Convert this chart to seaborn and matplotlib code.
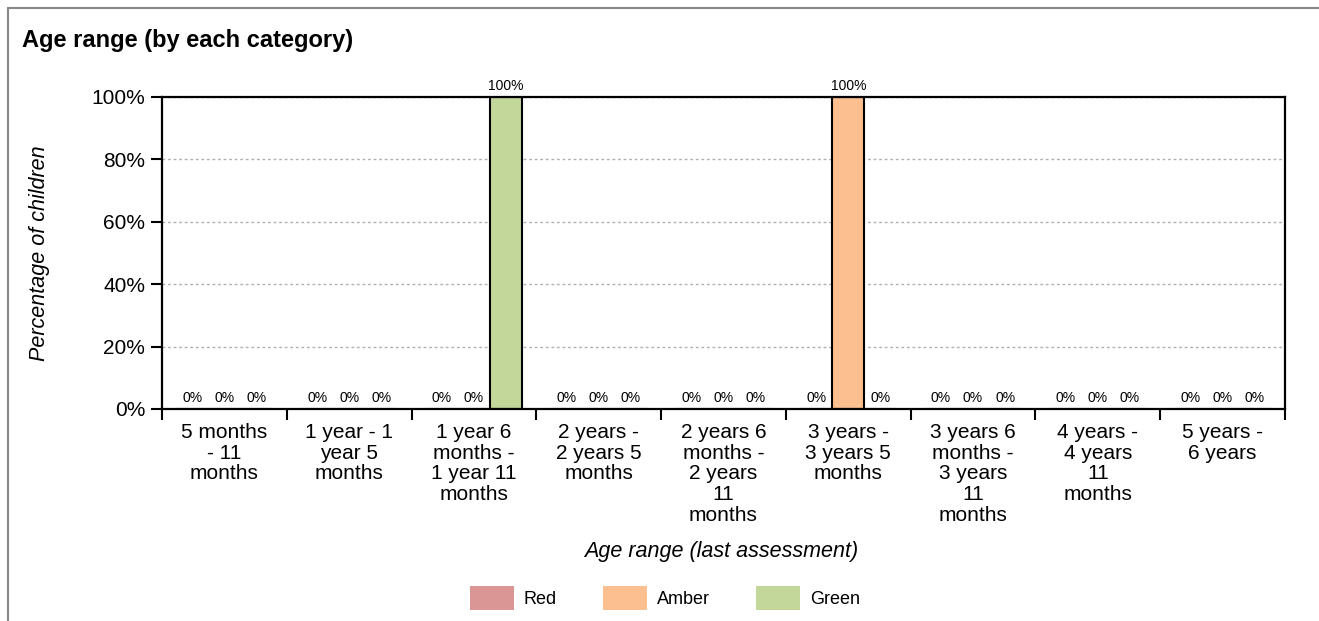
import numpy as np
import pandas as pd
import matplotlib
matplotlib.use("Agg")
import matplotlib.pyplot as plt
from matplotlib.patches import Patch
from matplotlib.lines import Line2D
from matplotlib.ticker import FuncFormatter, FixedLocator
import seaborn as sns

# ---- data ----
age_ranges = [
    "5 months - 11 months",
    "1 year - 1 year 5 months",
    "1 year 6 months - 1 year 11 months",
    "2 years - 2 years 5 months",
    "2 years 6 months - 2 years 11 months",
    "3 years - 3 years 5 months",
    "3 years 6 months - 3 years 11 months",
    "4 years - 4 years 11 months",
    "5 years - 6 years",
]
tick_labels = [
    "5 months\n- 11\nmonths",
    "1 year - 1\nyear 5\nmonths",
    "1 year 6\nmonths -\n1 year 11\nmonths",
    "2 years -\n2 years 5\nmonths",
    "2 years 6\nmonths -\n2 years\n11\nmonths",
    "3 years -\n3 years 5\nmonths",
    "3 years 6\nmonths -\n3 years\n11\nmonths",
    "4 years -\n4 years\n11\nmonths",
    "5 years -\n6 years",
]
series_names = ["Red", "Amber", "Green"]
red_values = [0, 0, 0, 0, 0, 0, 0, 0, 0]
amber_values = [0, 0, 0, 0, 0, 100, 0, 0, 0]
green_values = [0, 0, 100, 0, 0, 0, 0, 0, 0]
series_colors = ["#DA9694", "#FCBF8F", "#C4D79B"]

rows = []
for name, vals in zip(series_names, [red_values, amber_values, green_values]):
    for a, v in zip(age_ranges, vals):
        rows.append({"age": a, "pct": v, "rag": name})
df = pd.DataFrame(rows)

# ---- style ----
sns.set_style("white")
plt.rcParams["font.family"] = ["Liberation Sans", "DejaVu Sans"]
plt.rcParams["text.color"] = "black"
plt.rcParams["axes.labelcolor"] = "black"
plt.rcParams["xtick.color"] = "black"
plt.rcParams["ytick.color"] = "black"

W, H = 1319, 621
fig = plt.figure(figsize=(W / 100, H / 100), dpi=100)
ax = fig.add_axes([162 / W, 1 - 409 / H, (1285 - 162) / W, (409 - 97) / H])

sns.barplot(
    data=df, x="age", y="pct", hue="rag", order=age_ranges,
    hue_order=series_names, palette=series_colors, saturation=1,
    width=0.77, edgecolor="black", linewidth=1.5, ax=ax, legend=False,
    errorbar=None,
)

for cont in ax.containers:
    ax.bar_label(cont, labels=[f"{v:.0f}%" for v in cont.datavalues],
                 padding=3, fontsize=10, color="black")

ax.set_xlim(-0.5, len(age_ranges) - 0.5)
ax.set_ylim(0, 100)
ax.set_yticks([0, 20, 40, 60, 80, 100])
ax.yaxis.set_major_formatter(FuncFormatter(lambda v, p: f"{v:.0f}%"))
ax.tick_params(axis="y", which="major", length=8, width=1.5, direction="out",
               labelsize=15, pad=4, color="black", labelcolor="black", left=True)
ax.yaxis.grid(True, linestyle=(0, (2, 2)), color="#b0b0b0", linewidth=1)
ax.xaxis.grid(False)
ax.set_axisbelow(True)

ax.set_xticks(range(len(age_ranges)))
ax.set_xticklabels(tick_labels, fontsize=15, linespacing=1.12, va="top",
                   color="black")
ax.xaxis.set_minor_locator(FixedLocator(np.arange(-0.5, len(age_ranges), 1.0)))
ax.tick_params(axis="x", which="major", length=0, pad=10, labelsize=15,
               labelcolor="black")
ax.tick_params(axis="x", which="minor", length=8, width=1.5, direction="out",
               color="black", bottom=True)

for s in ax.spines.values():
    s.set_color("black")
    s.set_linewidth(1.6)
    s.set_visible(True)

ax.set_xlabel("")
ax.set_ylabel("")

fig.text(22 / W, 1 - 40 / H, "Age range (by each category)", ha="left",
         va="center", fontsize=17, fontweight="bold", color="black")
fig.text(40 / W, 1 - 253 / H, "Percentage of children", rotation=90,
         ha="center", va="center", fontsize=15.5, fontstyle="italic",
         color="black")
fig.text(721 / W, 1 - 551 / H, "Age range (last assessment)", ha="center",
         va="center", fontsize=15.5, fontstyle="italic", color="black")

handles = [Patch(facecolor=c, edgecolor="none", label=n)
           for n, c in zip(series_names, series_colors)]
leg = fig.legend(handles=handles, loc="center",
                 bbox_to_anchor=(665 / W, 1 - 598 / H),
                 ncol=3, frameon=False, fontsize=13, handlelength=2.44,
                 handleheight=1.75, handletextpad=0.55, columnspacing=2.55)
for t in leg.get_texts():
    t.set_color("black")

# outer frame (top and left edges visible)
fig.add_artist(Line2D([8 / W, 1], [1 - 8 / H, 1 - 8 / H], color="#888888",
                      linewidth=1.5, transform=fig.transFigure))
fig.add_artist(Line2D([8 / W, 8 / W], [0, 1 - 8 / H], color="#888888",
                      linewidth=1.5, transform=fig.transFigure))

fig.savefig("out.png", dpi=100)
